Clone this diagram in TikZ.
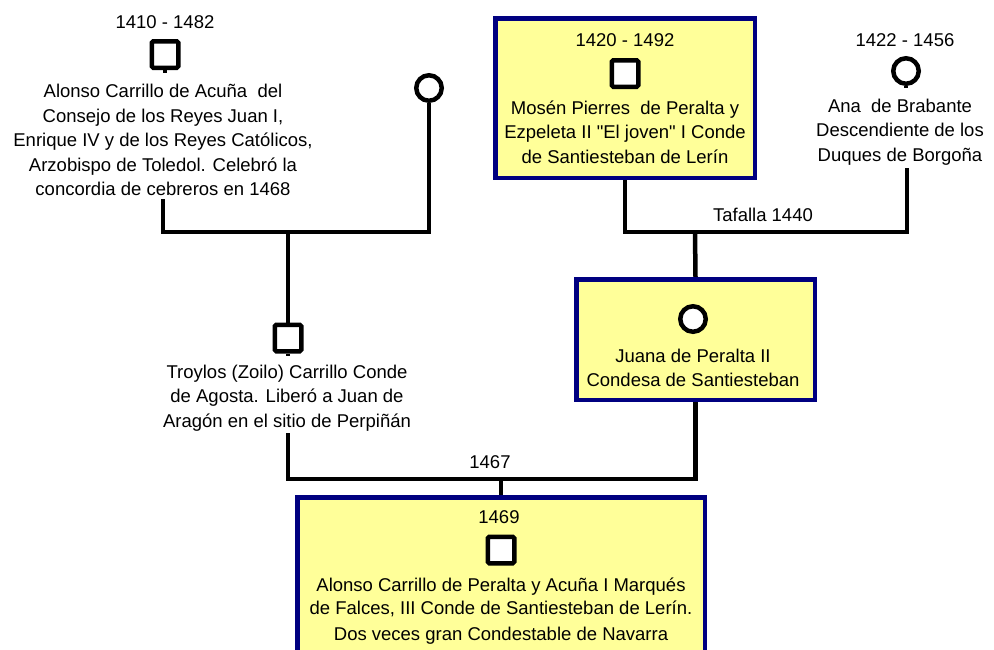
\documentclass[tikz,border=0pt]{standalone}
\usepackage{fontspec}
\setmainfont{Liberation Sans}[Ligatures=TeXOff]
\usetikzlibrary{backgrounds}
\definecolor{boxfill}{RGB}{255,255,153}
\definecolor{boxline}{RGB}{0,0,128}
\begin{document}
\begin{tikzpicture}[x=1pt,y=-1pt,
  txt/.style={align=center, font=\fontsize{18.5}{24.5}\selectfont, inner sep=0pt},
  male/.style={draw=black, line width=4.5pt, fill=white, minimum size=26.5pt, inner sep=0pt, rounded corners=1.5pt},
  female/.style={circle, draw=black, line width=4.5pt, fill=white, minimum size=25.5pt, inner sep=0pt},
  conn/.style={line width=4.5pt, line join=miter, draw=black},
  panel/.style={draw=boxline, fill=boxfill, line width=4.5pt, inner sep=0pt}
]
\useasboundingbox (0,0) rectangle (994,649);
\clip (0,0) rectangle (994,649);

% panels
\node[panel, minimum width=259.5pt, minimum height=159.5pt] (boxM) at (625,98) {};
\node[panel, minimum width=238.5pt, minimum height=120.5pt] (boxJ) at (695.5,339.5) {};
\node[panel, minimum width=407.5pt, minimum height=220pt] (boxC) at (501,607.25) {};

% Alonso Carrillo de Acuna
\node[txt] (dA) at (165,22) {1410 - 1482};
\node[male] (sqA) at (165,54.5) {};
\node[txt] (tA) at (163,140) {Alonso Carrillo de Acuña\ \ del\\Consejo de los Reyes Juan I,\\Enrique IV y de los Reyes Católicos,\\Arzobispo de Toledol. Celebró la\\concordia de cebreros en 1468};
\node[female] (cB) at (429,88) {};

% Mosen Pierres
\node[txt] (dM) at (625,40) {1420 - 1492};
\node[male] (sqM) at (625,73.5) {};
\node[txt] (tM) at (625,132) {Mosén Pierres\ \ de Peralta y\\Ezpeleta II "El joven" I Conde\\de Santiesteban de Lerín};

% Ana de Brabante
\node[txt] (dN) at (905,40) {1422 - 1456};
\node[female] (cN) at (906,71) {};
\node[txt] (tN) at (900,132) {Ana\ \ de Brabante\\Descendiente de los\\Duques de Borgoña};

\node[txt] (lT) at (763,215) {Tafalla 1440};

% Juana
\node[female] (cJ) at (693,319) {};
\node[txt] (tJ) at (693,368) {Juana de Peralta II\\Condesa de Santiesteban};

% Troylos
\node[male] (sqT) at (288,338) {};
\node[txt] (tT) at (287,398) {Troylos (Zoilo) Carrillo Conde\\de Agosta. Liberó a Juan de\\Aragón en el sitio de Perpiñán};

\node[txt] (l67) at (490,462) {1467};

% Alonso Carrillo de Peralta
\node[txt] (d69) at (499,517) {1469};
\node[male] (sqC) at (501,550) {};
\node[txt, font=\fontsize{18.5}{22.5}\selectfont] (tC) at (501,611) {Alonso Carrillo de Peralta y Acuña I Marqués\\de Falces, III Conde de Santiesteban de Lerín.\\[3.5pt]Dos veces gran Condestable de Navarra};

% connectors
\coordinate (aStub) at (165,73);
\coordinate (aBot) at (163,199);
\coordinate (mA) at (288,232);
\coordinate (tStub) at (288,356);
\coordinate (tBot) at (288,433);
\coordinate (m2) at (501,479);
\coordinate (m1) at (695,232);
\coordinate (nBot) at (907,168);
\coordinate (nStub) at (906,88);

\begin{pgfonlayer}{background}
\fill[white] (0,0) rectangle (994,649);
\draw[conn] (sqA.south) -- (aStub);
\draw[conn] (aBot) |- (mA) -| (cB.south);
\draw[conn] (mA) -- (sqT.north);
\draw[conn] (sqT.south) -- (tStub);
\draw[conn] (tBot) |- (m2) -| (boxJ.south);
\draw[conn] (m2) -- (boxC.north);
\draw[conn] (boxM.south) |- (m1) -| (nBot);
\draw[conn] (m1) -- (boxJ.north);
\draw[conn] (cN.south) -- (nStub);
\end{pgfonlayer}
\end{tikzpicture}
\end{document}
